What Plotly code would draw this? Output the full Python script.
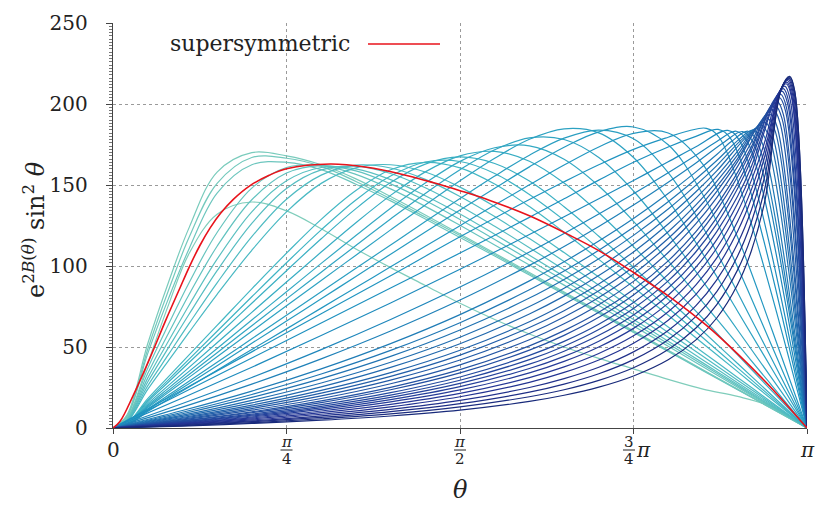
import numpy as np
import plotly.graph_objects as go
import plotly.express as px
from plotly.colors import sample_colorscale

PI = np.pi

# ---------------- data (theta given in units of pi) ----------------
THETA_TENT = [0, .02, .05, .08, .11, .15, .2, .25, .3, .35, .4, .45, .5, .55, .6,
              .65, .7, .75, .8, .85, .9, .95, 1]

TENT_VALUES = [
    [0, 6, 40, 76, 108, 132, 139.5, 134, 123, 110.5, 99, 88, 77, 67, 58, 50, 43, 36.5, 30, 24, 19.5, 13, 0],
    [0, 8, 52, 90, 124, 158, 170, 168, 162.5, 153.8, 142.9, 131.5, 119.8, 107.9, 96, 84, 72, 60, 48, 36, 24, 12, 0],
    [0, 7, 48.6, 85, 118, 151, 167, 166.5, 161.5, 152.2, 141.5, 130.2, 118.8, 107.1, 95.2, 83.3, 71.4, 59.5, 47.6, 35.7, 23.8, 11.9, 0],
    [0, 7, 45.9, 80, 111, 145, 162.5, 164, 159.5, 150.5, 140.2, 129, 117.6, 106.2, 94.4, 82.6, 70.8, 59, 47.2, 35.4, 23.6, 11.8, 0],
    [0, 5.5, 36.8, 64, 90, 120.7, 148.1, 160.8, 162.1, 156.6, 147.6, 136.8, 125.1, 113, 100.6, 88.2, 75.6, 63, 50.4, 37.8, 25.2, 12.6, 0],
    [0, 5, 33.6, 58.5, 82.7, 112.2, 140.9, 157.4, 162, 158.7, 150.7, 140.4, 128.7, 116.4, 103.7, 91, 78, 65, 52, 39, 26, 13, 0],
    [0, 4.6, 30.8, 53.7, 76.1, 104.2, 133.4, 152.6, 160.8, 159.9, 153.3, 143.4, 132.1, 119.6, 106.7, 93.6, 80.4, 67, 53.6, 40.2, 26.8, 13.4, 0],
    [0, 4.3, 28.4, 49.6, 70.5, 97.1, 126.3, 147.8, 159.3, 161.6, 157.1, 148.3, 137.1, 124.5, 111.3, 97.7, 83.8, 70, 56, 42, 28, 14, 0],
    [0, 3.9, 26, 45.4, 64.7, 89.6, 118.1, 141.2, 156.1, 162.3, 160.5, 153.5, 142.9, 130.5, 116.9, 102.8, 88.2, 73.6, 59, 44.3, 29.5, 14.8, 0],
    [0, 3.6, 23.8, 41.6, 59.3, 82.5, 109.7, 133.4, 151, 160.6, 162.5, 158, 148.7, 136.7, 123, 108.3, 93.2, 77.8, 62.4, 46.8, 31.2, 15.6, 0],
    [0, 2.7, 18.1, 31.7, 45.3, 63.3, 85.9, 107.9, 128.8, 146.6, 159.4, 164, 160.6, 150.6, 136.7, 120.8, 104.1, 86.9, 69.6, 52.2, 34.8, 17.4, 0],
    [0, 2.6, 17.1, 29.9, 42.7, 59.7, 81, 102, 122.3, 140.8, 155.5, 164.2, 164.5, 157.1, 144.2, 128.3, 110.7, 92.6, 74.1, 55.7, 37.1, 18.6, 0],
    [0, 2.4, 16.2, 28.4, 40.6, 56.8, 77, 97.1, 116.8, 135.4, 151.5, 162.9, 167.3, 163.3, 152.4, 136.6, 118.4, 99.2, 79.5, 59.7, 39.8, 19.9, 0],
    [0, 2.3, 15, 26.3, 37.6, 52.6, 71.4, 90.1, 108.6, 126.7, 143.6, 158.1, 168, 170.7, 164.7, 151.2, 132.9, 112, 90, 67.6, 45.1, 22.6, 0],
    [0, 2.1, 14, 24.6, 35.1, 49.1, 66.7, 84.1, 101.6, 118.8, 135.7, 151.2, 164.6, 173, 174.2, 165.9, 149.4, 127.6, 103.1, 77.6, 51.8, 25.9, 0],
    [0, 2, 13.3, 23.2, 33.2, 46.5, 63.1, 79.7, 96.2, 112.7, 129, 144.8, 159.4, 171.8, 179.1, 178.1, 167, 146.3, 119.7, 90.5, 60.5, 30.3, 0],
    [0, 1.9, 12.6, 22, 31.4, 44, 59.7, 75.4, 91.1, 106.7, 122.3, 137.7, 152.6, 166.5, 178.2, 184.7, 182.2, 167, 140.5, 107.5, 72.1, 36.1, 0],
    [0, 1.7, 11.6, 20.3, 29, 40.6, 55.1, 69.6, 84.1, 98.6, 113, 127.4, 141.6, 155.5, 168.4, 178.9, 183.9, 178.5, 157.6, 123.9, 83.7, 42, 0],
    [0, 1.65, 11, 19.3, 27.5, 38.5, 52.3, 66, 79.8, 93.5, 107.3, 121, 134.6, 148, 161.2, 173.3, 182.8, 185.8, 174.8, 144, 99.3, 50, 0],
    [0, 1.5, 10.2, 17.9, 25.5, 35.7, 48.5, 61.2, 74, 86.7, 99.5, 112.2, 124.9, 137.6, 150.1, 162.3, 173.5, 181.9, 182.1, 162.7, 117.7, 60, 0],
]

DARK_THETA = [
    [0, .1, .2, .3, .4, .5, .6, .65, .7, .75, .8, .83, .855, .874, 1],
    [0, .1, .2, .3, .4, .5, .6, .65, .7, .75, .8, .84, .872, .891, 1],
    [0, .1, .2, .3, .4, .5, .6, .65, .7, .75, .8, .84, .886, .904, 1],
    [0, .1, .2, .3, .4, .5, .6, .65, .7, .75, .8, .84, .87, .898, .915, 1],
    [0, .1, .2, .3, .4, .5, .6, .65, .7, .75, .8, .84, .881, .907, .923, 1],
    [0, .1, .2, .3, .4, .5, .6, .65, .7, .75, .8, .84, .87, .891, .915, .929, 1],
    [0, .1, .2, .3, .4, .5, .6, .65, .7, .75, .8, .84, .87, .9, .922, .935, 1],
    [0, .1, .2, .3, .4, .5, .6, .65, .7, .75, .8, .84, .87, .907, .928, .941, 1],
    [0, .1, .2, .3, .4, .5, .6, .65, .7, .75, .8, .84, .87, .914, .934, .946, 1],
    [0, .1, .2, .3, .4, .5, .6, .65, .7, .75, .8, .84, .87, .9, .92, .939, .95, 1],
    [0, .1, .2, .3, .4, .5, .6, .65, .7, .75, .8, .84, .87, .9, .925, .943, .954, 1],
    [0, .1, .2, .3, .4, .5, .6, .65, .7, .75, .8, .84, .87, .9, .93, .947, .957, 1],
    [0, .1, .2, .3, .4, .5, .6, .65, .7, .75, .8, .84, .87, .9, .934, .951, .961, 1],
    [0, .1, .2, .3, .4, .5, .6, .65, .7, .75, .8, .84, .87, .9, .92, .938, .954, .964, 1],
    [0, .1, .2, .3, .4, .5, .6, .65, .7, .75, .8, .84, .87, .9, .92, .942, .957, .966, 1],
    [0, .1, .2, .3, .4, .5, .6, .65, .7, .75, .8, .84, .87, .9, .92, .945, .96, .969, 1],
    [0, .1, .2, .3, .4, .5, .6, .65, .7, .75, .8, .84, .87, .9, .92, .948, .962, .9704, 1],
    [0, .1, .2, .3, .4, .5, .6, .65, .7, .75, .8, .84, .87, .9, .92, .95, .964, .9724, 1],
    [0, .1, .2, .3, .4, .5, .6, .65, .7, .75, .8, .84, .87, .9, .92, .953, .966, .9738, 1],
    [0, .1, .2, .3, .4, .5, .6, .65, .7, .75, .8, .84, .87, .9, .92, .955, .968, .9758, 1],
    [0, .1, .2, .3, .4, .5, .6, .65, .7, .75, .8, .84, .87, .9, .92, .94, .957, .97, .9778, 1],
    [0, .1, .2, .3, .4, .5, .6, .65, .7, .75, .8, .84, .87, .9, .92, .94, .959, .971, .9782, 1],
    [0, .1, .2, .3, .4, .5, .6, .65, .7, .75, .8, .84, .87, .9, .92, .94, .96, .972, .9792, 1],
    [0, .1, .2, .3, .4, .5, .6, .65, .7, .75, .8, .84, .87, .9, .92, .94, .961, .973, .9802, 1],
    [0, .1, .2, .3, .4, .5, .6, .65, .7, .75, .8, .84, .87, .9, .92, .94, .962, .974, .9812, 1],
    [0, .1, .2, .3, .4, .5, .6, .65, .7, .75, .8, .84, .87, .9, .92, .94, .963, .975, .9822, 1],
    [0, .1, .2, .3, .4, .5, .6, .65, .7, .75, .8, .84, .87, .9, .92, .94, .963, .975, .9822, 1],
]

DARK_VALUES = [
    [0, 23.5, 47, 70.5, 94, 118, 141, 152, 162.5, 172, 179.5, 183.5, 185, 179, 0],
    [0, 21.6, 43.2, 64.8, 86.4, 108, 130, 141.5, 153, 164, 173.5, 180, 184.3, 178, 0],
    [0, 18.5, 37.5, 57.1, 77.2, 98, 119.4, 130.4, 141.5, 152.8, 164.3, 173.6, 183.7, 176.4, 0],
    [0, 15.1, 31.2, 48.4, 67, 87, 108.6, 120.1, 132.1, 144.6, 157.6, 168.4, 176.8, 183.2, 176, 0],
    [0, 12.9, 27.1, 42.7, 59.9, 79, 100.4, 112, 124.4, 137.6, 151.7, 163.6, 176.6, 183, 175.8, 0],
    [0, 10.8, 22.8, 36.5, 52.1, 70, 90.8, 102.6, 115.4, 129.3, 144.7, 158.1, 168.8, 176.8, 183.2, 176, 0],
    [0, 9.7, 20.7, 33.3, 47.9, 65, 85.3, 96.9, 109.7, 123.9, 139.7, 153.7, 165.1, 177.4, 183.8, 176.4, 0],
    [0, 8.8, 18.9, 30.5, 44.2, 60.5, 80.2, 91.7, 104.5, 118.9, 135.2, 149.9, 162, 178.5, 185, 177.6, 0],
    [0, 7.9, 17.1, 27.8, 40.6, 56, 75, 86.3, 99.1, 113.6, 130.4, 145.8, 158.7, 180.2, 186.7, 179.2, 0],
    [0, 7.2, 15.5, 25.4, 37.4, 52, 70.4, 81.4, 94.1, 108.7, 125.9, 141.9, 155.5, 170.9, 182.2, 188.8, 181.2, 0],
    [0, 6.5, 14.1, 23.2, 34.2, 48, 65.6, 76.4, 88.9, 103.6, 121.1, 137.7, 152.2, 168.6, 184.3, 191, 183.4, 0],
    [0, 6, 13, 21.5, 31.9, 45, 62, 72.4, 84.7, 99.4, 117, 134.1, 149.1, 166.3, 186.7, 193.5, 185.8, 0],
    [0, 5.5, 12, 19.8, 29.6, 42, 58.3, 68.5, 80.6, 95.1, 113, 130.4, 146.1, 164.4, 189.6, 196.5, 188.6, 0],
    [0, 5, 11, 18.2, 27.3, 39, 54.5, 64.3, 76.1, 90.5, 108.3, 126.1, 142.2, 161.5, 176.5, 192, 199, 191, 0],
    [0, 4.5, 10, 16.7, 25.1, 36, 50.7, 60.1, 71.4, 85.5, 103.2, 121.2, 137.7, 157.8, 173.7, 194.4, 201.5, 193.4, 0],
    [0, 4.2, 9.4, 15.7, 23.6, 34, 48.1, 57.2, 68.3, 82.1, 99.7, 117.7, 134.5, 155.1, 171.8, 196.9, 204, 195.8, 0],
    [0, 3.9, 8.6, 14.4, 21.8, 31.5, 44.8, 53.5, 64.1, 77.5, 94.8, 112.9, 129.9, 151.1, 168.5, 198.8, 206, 197.8, 0],
    [0, 3.6, 8, 13.4, 20.3, 29.5, 42.2, 50.5, 60.8, 73.8, 90.8, 108.8, 126, 147.8, 165.8, 200.7, 208, 199.7, 0],
    [0, 3.3, 7.4, 12.4, 18.9, 27.5, 39.4, 47.4, 57.2, 69.8, 86.4, 104, 121.2, 143.1, 161.6, 202.2, 209.5, 201.1, 0],
    [0, 3.1, 6.8, 11.5, 17.5, 25.5, 36.7, 44.2, 53.6, 65.7, 81.9, 99.3, 116.3, 138.6, 157.6, 203.6, 211, 202.6, 0],
    [0, 2.8, 6.2, 10.5, 16.1, 23.5, 34, 41.1, 50, 61.5, 77.1, 94.2, 111.1, 133.5, 153, 177.9, 205.1, 212.5, 204, 0],
    [0, 2.5, 5.6, 9.5, 14.6, 21.4, 31.1, 37.7, 46, 56.9, 71.8, 88.4, 105, 127.5, 147.3, 173.1, 206, 213.5, 205, 0],
    [0, 2.3, 5, 8.5, 13.1, 19.3, 28.2, 34.3, 42, 52.3, 66.5, 82.5, 98.9, 121.5, 141.8, 169, 207, 214.5, 206, 0],
    [0, 2, 4.4, 7.5, 11.5, 17, 25, 30.5, 37.5, 47, 60.2, 75.5, 91.4, 113.9, 134.7, 163.4, 207.8, 215.3, 206.7, 0],
    [0, 1.7, 3.9, 6.6, 10.1, 15, 22.1, 27.1, 33.5, 42.2, 54.5, 68.9, 84.2, 106.2, 127.3, 157, 208.4, 216, 207.4, 0],
    [0, 1.5, 3.3, 5.7, 8.7, 13, 19.3, 23.6, 29.4, 37.2, 48.4, 61.7, 76.2, 97.6, 118.6, 149.4, 208.9, 216.5, 207.8, 0],
    [0, 1.2, 2.8, 4.8, 7.4, 11, 16.4, 20.2, 25.2, 32.1, 42.1, 54.4, 67.9, 88.6, 109.6, 141.8, 209.4, 217, 208.3, 0],
]

SUSY_THETA = [0, 0.01, 0.029, 0.053, 0.077, 0.095, 0.11, 0.125, 0.14, 0.155, 0.173, 0.197,
              0.225, 0.25, 0.313, 0.366, 0.413, 0.461, 0.5, 0.543, 0.6, 0.658, 0.7, 0.75,
              0.8, 0.856, 0.903, 0.947, 1.0]
SUSY_VALUES = [0, 4, 20, 43, 67.5, 85, 99.5, 112.5, 123.5, 132.5, 141, 149.5,
               156, 160, 163, 161, 157, 151.5, 146.5, 140.5, 131, 119, 109.5, 96,
               81.5, 63, 44.5, 25.5, 0]

Y_TICK_STEP = 50
X_TICKS_OVER_PI = [0, 0.25, 0.5, 0.75, 1.0]
LEGEND_LABEL = "supersymmetric"
X_TITLE = "<i>θ</i>"
Y_TITLE = "e<sup>2<i>B</i>(<i>θ</i>)</sup> sin<sup>2</sup> <i>θ</i>"

# ---------------- figure ----------------
curves = [(THETA_TENT, v) for v in TENT_VALUES] + list(zip(DARK_THETA, DARK_VALUES))
n = len(curves)
colors = sample_colorscale(px.colors.sequential.YlGnBu,
                           [0.375 + 0.555 * i / (n - 1) for i in range(n)])

fig = go.Figure()
for (th, vals), c in zip(curves, colors):
    fig.add_trace(go.Scatter(
        x=np.array(th) * PI, y=vals, mode="lines",
        line=dict(color=c, width=1.2, shape="spline", smoothing=1.0),
        hoverinfo="skip", showlegend=False))

fig.add_trace(go.Scatter(
    x=np.array(SUSY_THETA) * PI, y=SUSY_VALUES, mode="lines", name=LEGEND_LABEL,
    line=dict(color="#e8131b", width=1.6, shape="spline", smoothing=1.0),
    hoverinfo="skip", showlegend=False))

FONT = "DejaVu Serif"
W, H = 815, 508
PLOT_X0, PLOT_X1, PLOT_Y0, PLOT_Y1 = 113, 807, 23, 428   # page pixels of the plot area
L, R, T, B = PLOT_X0, W - PLOT_X1, PLOT_Y0, H - PLOT_Y1
PW, PH = PLOT_X1 - PLOT_X0, PLOT_Y1 - PLOT_Y0


def px_x(p):
    return (p - PLOT_X0) / PW


def px_y(p):
    return (PLOT_Y1 - p) / PH


annotations = []
shapes = []


def text(x, y, s, size, **kw):
    annotations.append(dict(x=x, y=y, xref="paper", yref="paper", text=s, showarrow=False,
                            font=dict(family=FONT, size=size, color="#222"),
                            xanchor=kw.get("xanchor", "center"), yanchor="middle",
                            textangle=kw.get("angle", 0)))


lab_y = px_y(450)
num_y = px_y(442)
bar_y = px_y(450)
den_y = px_y(459)
text(0.0, lab_y, "0", 20)
text(1.0, lab_y, "<i>π</i>", 20)
for xp, num, den in [(0.25, "<i>π</i>", "4"), (0.5, "<i>π</i>", "2"), (0.7435, "3", "4")]:
    text(xp, num_y, num, 15)
    text(xp, den_y, den, 15)
    shapes.append(dict(type="line", xref="paper", yref="paper",
                       x0=xp - 6 / PW, x1=xp + 6 / PW, y0=bar_y, y1=bar_y,
                       line=dict(color="#222", width=1)))
text(0.7637, lab_y, "<i>π</i>", 20)

text(px_x(460), px_y(490), X_TITLE, 24)
text(px_x(34), px_y(230), Y_TITLE, 24, angle=-90)

# legend
text(px_x(352), px_y(43), LEGEND_LABEL, 22, xanchor="right")
shapes.append(dict(type="line", xref="paper", yref="paper",
                   x0=px_x(368), x1=px_x(440), y0=px_y(44), y1=px_y(44),
                   line=dict(color="#e8131b", width=1.6)))

fig.update_layout(
    width=W, height=H,
    margin=dict(l=L, r=R, t=T, b=B, autoexpand=False),
    paper_bgcolor="white", plot_bgcolor="white",
    showlegend=False, hovermode=False,
    font=dict(family=FONT, size=20, color="#222"),
    annotations=annotations, shapes=shapes,
    xaxis=dict(range=[0, PI], tickmode="array", tickvals=[v * PI for v in X_TICKS_OVER_PI],
               showticklabels=False, ticks="outside", ticklen=5, tickcolor="#444",
               showgrid=True, gridcolor="#9a9a9a", griddash="dot", gridwidth=1,
               showline=True, linecolor="#444", linewidth=1.2, zeroline=False),
    yaxis=dict(range=[0, 250], tick0=0, dtick=Y_TICK_STEP,
               ticks="outside", ticklen=6, tickcolor="#444", ticklabelstandoff=14,
               tickfont=dict(family=FONT, size=20, color="#222"),
               showgrid=True, gridcolor="#9a9a9a", griddash="dot", gridwidth=1,
               showline=True, linecolor="#444", linewidth=1.2, zeroline=False,
               minor=dict(dtick=2, ticks="outside", ticklen=2.5, tickcolor="#777",
                          showgrid=False)),
)

PAGE_CSS = ("document.body.style.margin='0';"
            "document.body.style.overflow='hidden';"
            "document.documentElement.style.overflow='hidden';")
fig.write_html("out.html", post_script=PAGE_CSS,
               config={"displayModeBar": False, "staticPlot": True})
